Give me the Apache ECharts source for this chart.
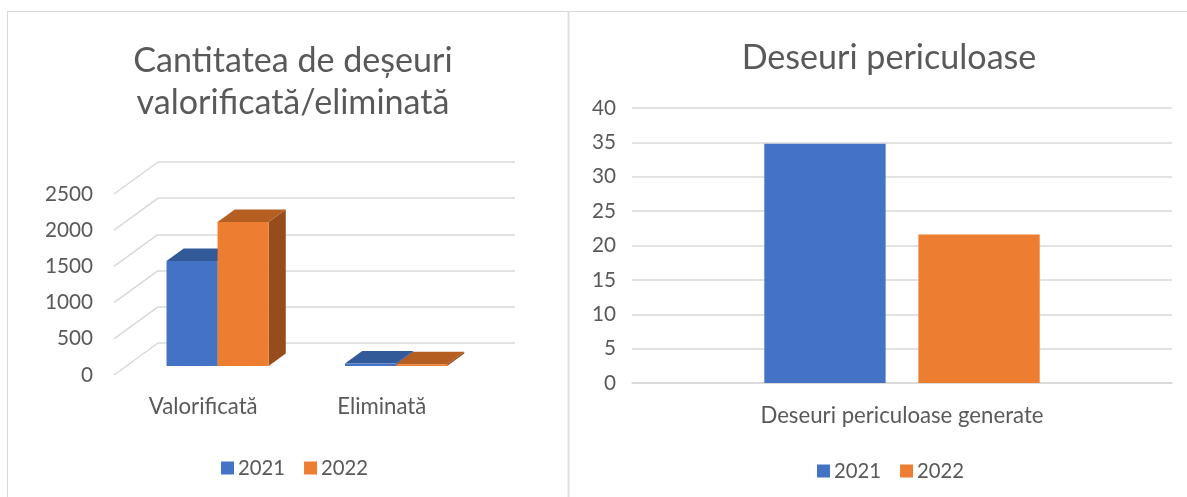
<!DOCTYPE html>
<html>
<head>
<meta charset="utf-8">
<script src="https://cdn.jsdelivr.net/npm/echarts@6/dist/echarts.min.js"></script>
<style>
html,body{margin:0;padding:0;background:#fff;}
#c{width:1187px;height:497px;}
</style>
</head>
<body>
<div id="c"></div>
<script>
// ---- data ----
const leftTitle = 'Cantitatea de deșeuri\nvalorificată/eliminată';
const leftCategories = ['Valorificată', 'Eliminată'];
const left2021 = [1450, 35];
const left2022 = [1990, 25];
const leftTicks = [0, 500, 1000, 1500, 2000, 2500];

const rightTitle = 'Deseuri periculoase';
const rightCategories = ['Deseuri periculoase generate'];
const right2021 = [34.8];
const right2022 = [21.6];

const seriesNames = ['2021', '2022'];

// ---- style ----
const FONT = 'Lato';
const TXT = '#595959';
const GRID = '#d9d9d9';
const BLUE = '#4472C4', BLUE_TOP = '#335A98', BLUE_SIDE = '#2F5597';
const ORANGE = '#ED7D31', ORANGE_TOP = '#B55E22', ORANGE_SIDE = '#974C1C';

const cv = document.createElement('canvas').getContext('2d');
function fit(text, w) {
  cv.font = '100px ' + FONT;
  return Math.round(100 * w / cv.measureText(text).width * 10) / 10;
}
const titleSize = fit('Deseuri periculoase', 295);
const tickSize = fit('2500', 48);
const legendSize = fit('2021', 47);
const catSize = fit('Valorificată', 109);

// 3D geometry: back wall grid (0) and front plane grid (1)
const BACK = {left: 158, right: 1187 - 515, top: 162, bottom: 497 - 343};
const FRONT = {left: 114, right: 1187 - 471, top: 194, bottom: 497 - 375};
const DX = FRONT.left - BACK.left;   // -44
const DY = (497 - FRONT.bottom) - (497 - BACK.bottom); // +32
const F_FRONT = 0.72, F_BACK = 0.33;

function bar3d(colors, idx) {
  return function (params, api) {
    const cat = api.value(0), v = api.value(1);
    const band = api.size([1, 0])[0];
    const bw = band * 0.286;
    const c = api.coord([cat, 0]);
    const top = api.coord([cat, v])[1];
    const base = c[1];
    const x0 = c[0] + (idx === 0 ? -bw : 0) + 2;
    const fx = DX * F_FRONT, fy = DY * F_FRONT, bx = DX * F_BACK, by = DY * F_BACK;
    return {
      type: 'group',
      children: [
        {type: 'polygon', shape: {points: [[x0 + bw + fx, top + fy], [x0 + bw + bx, top + by], [x0 + bw + bx, base + by], [x0 + bw + fx, base + fy]]}, style: {fill: colors[2]}},
        {type: 'polygon', shape: {points: [[x0 + fx, top + fy], [x0 + bw + fx, top + fy], [x0 + bw + bx, top + by], [x0 + bx, top + by]]}, style: {fill: colors[1]}},
        {type: 'rect', shape: {x: x0 + fx, y: top + fy, width: bw, height: base - top}, style: {fill: colors[0]}}
      ]
    };
  };
}

function diagRender(params, api) {
  const y = api.coord([0, api.value(0)])[1];
  const x = params.coordSys.x;
  return {type: 'line', shape: {x1: x, y1: y, x2: x + DX, y2: y + DY}, style: {stroke: GRID, lineWidth: 1.5}};
}

const plain = v => String(v);

const chart = echarts.init(document.getElementById('c'), null, {renderer: 'canvas'});
chart.setOption({
  animation: false,
  backgroundColor: '#fff',
  textStyle: {fontFamily: FONT, color: TXT},
  title: [
    {text: leftTitle, left: 288, top: 35, textAlign: 'center',
      textStyle: {fontFamily: FONT, fontWeight: 'normal', fontSize: titleSize, color: TXT, lineHeight: 42}},
    {text: rightTitle, left: 884, top: 36, textAlign: 'center',
      textStyle: {fontFamily: FONT, fontWeight: 'normal', fontSize: titleSize, color: TXT}}
  ],
  legend: [
    {data: seriesNames, left: 216, top: 453, itemWidth: 13, itemHeight: 13, itemGap: 19, icon: 'rect',
      textStyle: {fontFamily: FONT, fontSize: legendSize, color: TXT, padding: [0, 0, 0, -1]}, selectedMode: false},
    {data: seriesNames, left: 812, top: 456, itemWidth: 13, itemHeight: 13, itemGap: 19, icon: 'rect',
      textStyle: {fontFamily: FONT, fontSize: legendSize, color: TXT, padding: [0, 0, 0, -1]}, selectedMode: false}
  ],
  grid: [
    {left: BACK.left, right: BACK.right, top: BACK.top, bottom: BACK.bottom},
    {left: FRONT.left, right: FRONT.right, top: FRONT.top, bottom: FRONT.bottom},
    {left: 632, right: 15, top: 108, bottom: 114}
  ],
  xAxis: [
    {type: 'category', gridIndex: 0, data: leftCategories, axisLine: {show: false}, axisTick: {show: false}, axisLabel: {show: false}},
    {type: 'category', gridIndex: 1, data: leftCategories, axisLine: {show: false}, axisTick: {show: false},
      axisLabel: {margin: 21, fontFamily: FONT, fontSize: catSize, color: TXT}},
    {type: 'category', gridIndex: 2, data: rightCategories, axisLine: {show: true, lineStyle: {color: GRID, width: 1.5}}, axisTick: {show: false},
      axisLabel: {margin: 22, fontFamily: FONT, fontSize: catSize, color: TXT}}
  ],
  yAxis: [
    {type: 'value', gridIndex: 0, min: 0, max: 2500, interval: 500, axisLabel: {show: false}, axisLine: {show: false}, axisTick: {show: false},
      splitLine: {lineStyle: {color: GRID, width: 1.5}}},
    {type: 'value', gridIndex: 1, min: 0, max: 2500, interval: 500, axisLine: {show: false}, axisTick: {show: false}, splitLine: {show: false},
      axisLabel: {margin: 21, fontFamily: FONT, fontSize: tickSize, color: TXT, formatter: plain}},
    {type: 'value', gridIndex: 2, min: 0, max: 40, interval: 5, axisLine: {show: false}, axisTick: {show: false},
      splitLine: {lineStyle: {color: GRID, width: 1.5}},
      axisLabel: {margin: 16, fontFamily: FONT, fontSize: tickSize, color: TXT, formatter: plain}}
  ],
  series: [
    {type: 'custom', xAxisIndex: 0, yAxisIndex: 0, renderItem: diagRender, data: leftTicks.map(v => [v]), encode: {y: 0}, silent: true, z: 1},
    {type: 'custom', name: seriesNames[0], xAxisIndex: 0, yAxisIndex: 0, itemStyle: {color: BLUE}, z: 3,
      renderItem: bar3d([BLUE, BLUE_TOP, BLUE_SIDE], 0),
      data: leftCategories.map((c, i) => [i, left2021[i]]), encode: {x: 0, y: 1}},
    {type: 'custom', name: seriesNames[1], xAxisIndex: 0, yAxisIndex: 0, itemStyle: {color: ORANGE}, z: 4,
      renderItem: bar3d([ORANGE, ORANGE_TOP, ORANGE_SIDE], 1),
      data: leftCategories.map((c, i) => [i, left2022[i]]), encode: {x: 0, y: 1}},
    {type: 'bar', name: seriesNames[0], xAxisIndex: 2, yAxisIndex: 2, data: right2021, itemStyle: {color: BLUE},
      barGap: '27%', barCategoryGap: '49%'},
    {type: 'bar', name: seriesNames[1], xAxisIndex: 2, yAxisIndex: 2, data: right2022, itemStyle: {color: ORANGE},
      barGap: '27%', barCategoryGap: '49%'}
  ],
  graphic: [
    {type: 'line', shape: {x1: 7, y1: 11.5, x2: 1187, y2: 11.5}, style: {stroke: GRID, lineWidth: 1}, silent: true},
    {type: 'line', shape: {x1: 7.5, y1: 11, x2: 7.5, y2: 497}, style: {stroke: GRID, lineWidth: 1}, silent: true},
    {type: 'line', shape: {x1: 568.5, y1: 11, x2: 568.5, y2: 497}, style: {stroke: '#e0e0e0', lineWidth: 2}, silent: true}
  ]
});
</script>
</body>
</html>
